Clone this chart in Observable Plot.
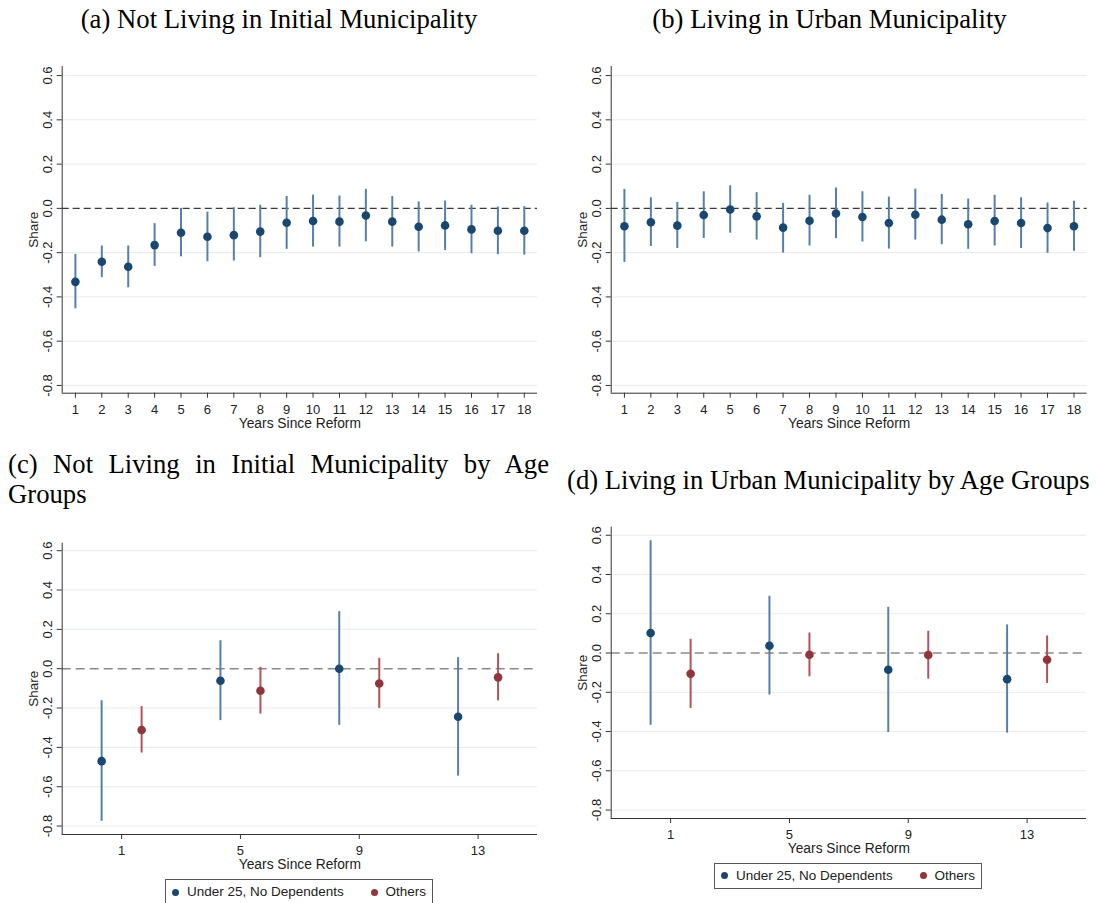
<!DOCTYPE html>
<html><head><meta charset="utf-8">
<script src="https://cdn.jsdelivr.net/npm/d3@7"></script>
<script src="https://cdn.jsdelivr.net/npm/@observablehq/plot@0.6"></script>
<style>
html,body{margin:0;padding:0;background:#fff;}
body{width:1096px;height:903px;position:relative;overflow:hidden;font-family:"Liberation Sans",Arial,sans-serif;}
.title{position:absolute;font-family:"Liberation Serif","Times New Roman",serif;font-size:26.7px;color:#000;line-height:30px;white-space:nowrap;}
.panel{position:absolute;}
.panel svg{overflow:visible;}
.legend{position:absolute;border:1px solid #555;box-sizing:border-box;background:#fff;font-size:13.5px;color:#222;}
.legend .dot{position:absolute;width:7px;height:7px;border-radius:50%;}
.legend .lab{position:absolute;white-space:nowrap;line-height:16px;}
</style></head><body>
<script>
// ---------- data ----------
const years = [1,2,3,4,5,6,7,8,9,10,11,12,13,14,15,16,17,18];
const aEst = [-0.332,-0.241,-0.264,-0.166,-0.110,-0.128,-0.121,-0.105,-0.065,-0.057,-0.060,-0.032,-0.060,-0.083,-0.077,-0.095,-0.101,-0.101];
const aLo  = [-0.454,-0.313,-0.359,-0.262,-0.219,-0.241,-0.238,-0.223,-0.185,-0.175,-0.175,-0.151,-0.175,-0.197,-0.190,-0.205,-0.209,-0.211];
const aHi  = [-0.208,-0.170,-0.170,-0.069,0.000,-0.017,0.003,0.014,0.054,0.060,0.056,0.086,0.054,0.029,0.033,0.014,0.006,0.008];
const bEst = [-0.081,-0.063,-0.078,-0.030,-0.005,-0.036,-0.087,-0.056,-0.023,-0.039,-0.066,-0.029,-0.051,-0.072,-0.057,-0.066,-0.089,-0.081];
const bLo  = [-0.244,-0.172,-0.181,-0.136,-0.112,-0.143,-0.202,-0.170,-0.137,-0.152,-0.184,-0.143,-0.164,-0.185,-0.170,-0.181,-0.203,-0.194];
const bHi  = [0.086,0.048,0.027,0.075,0.102,0.071,0.023,0.059,0.092,0.075,0.051,0.087,0.063,0.042,0.059,0.048,0.024,0.032];

const groupYears = [1,5,9,13];
const seriesNames = ["Under 25, No Dependents","Others"];
const cYoungEst = [-0.470,-0.061,0.000,-0.244];
const cYoungLo  = [-0.776,-0.264,-0.288,-0.546];
const cYoungHi  = [-0.163,0.142,0.290,0.056];
const cOtherEst = [-0.312,-0.112,-0.075,-0.044];
const cOtherLo  = [-0.429,-0.231,-0.202,-0.164];
const cOtherHi  = [-0.193,0.007,0.053,0.076];
const dYoungEst = [0.102,0.037,-0.085,-0.133];
const dYoungLo  = [-0.368,-0.214,-0.405,-0.408];
const dYoungHi  = [0.572,0.289,0.233,0.143];
const dOtherEst = [-0.106,-0.009,-0.010,-0.034];
const dOtherLo  = [-0.283,-0.121,-0.133,-0.155];
const dOtherHi  = [0.070,0.102,0.111,0.087];

const yTicks = [-0.8,-0.6,-0.4,-0.2,0,0.2,0.4,0.6];
const titles = ["(a) Not Living in Initial Municipality","(b) Living in Urban Municipality",
  "(c) Not Living in Initial Municipality by Age Groups","(d) Living in Urban Municipality by Age Groups"];
const xLabel = "Years Since Reform";
const yLabel = "Share";

// ---------- styles ----------
const blueDot = "#1a476f", blueLine = "#5680a8";
const redDot = "#90353b", redLine = "#b4525a";
const FONT = "Liberation Sans, Arial, sans-serif";

function rows(xs, est, lo, hi){ return xs.map((x,i)=>({x, est:est[i], lo:lo[i], hi:hi[i]})); }

function panel({left, top, width, height, m, xDomain, xTicks, yDomain, marks, zero}){
  const chart = Plot.plot({
    width, height,
    marginTop:m[0], marginRight:m[1], marginBottom:m[2], marginLeft:m[3],
    x:{domain:xDomain},
    y:{domain:yDomain},
    style:{fontFamily:FONT, background:"transparent", color:"#222"},
    marks:[
      Plot.gridY(yTicks.filter(d=>d!==0), {stroke:"#e6ebef", strokeOpacity:1, strokeWidth:1}),
      Plot.ruleY([0], zero),
      ...marks,
      Plot.ruleX([xDomain[0]], {stroke:"#333", strokeWidth:1}),
      Plot.ruleY([yDomain[0]], {stroke:"#333", strokeWidth:1}),
      Plot.axisX({ticks:xTicks, tickSize:5, tickPadding:6.5, fontSize:13, label:null, stroke:"#333"}),
      Plot.axisY({ticks:yTicks, tickSize:5, tickFormat:()=>"", label:null, stroke:"#333"}),
      Plot.text(yTicks, {y:d=>d, text:d=>d.toFixed(1), frameAnchor:"left", dx:-10.5, rotate:-90,
        lineAnchor:"bottom", textAnchor:"middle", fontSize:13, fill:"#222"}),
      Plot.text([xLabel], {text:d=>d, frameAnchor:"bottom", dy:30, lineAnchor:"middle", fontSize:13.8, fill:"#222"}),
      Plot.text([yLabel], {text:d=>d, frameAnchor:"left", dx:-29, rotate:-90, lineAnchor:"middle", textAnchor:"middle", fontSize:13.5, fill:"#222"})
    ]
  });
  const div = document.createElement("div");
  div.className = "panel";
  div.style.left = left+"px"; div.style.top = top+"px";
  div.appendChild(chart);
  document.body.appendChild(div);
}

function ciMarks(data, lineColor, dotColor, dx){
  return [
    Plot.ruleX(data, {x:"x", y1:"lo", y2:"hi", stroke:lineColor, strokeWidth:2, dx}),
    Plot.dot(data, {x:"x", y:"est", r:4.3, fill:dotColor, stroke:"none", dx})
  ];
}

const zeroTop = {stroke:"#3a3a3a", strokeWidth:1.1, strokeDasharray:"7,4"};
const zeroBot = {stroke:"#8a8a8a", strokeWidth:1.6, strokeDasharray:"9,5"};

// (a)
panel({left:0, top:40, width:548, height:410, m:[26,11,57.3,61.7],
  xDomain:[0.5,18.5], xTicks:years, yDomain:[-0.835,0.641],
  marks:ciMarks(rows(years,aEst,aLo,aHi), blueLine, blueDot, 0), zero:zeroTop});
// (b)
panel({left:548, top:40, width:548, height:410, m:[26,9.3,57.3,62.7],
  xDomain:[0.5,18.5], xTicks:years, yDomain:[-0.835,0.641],
  marks:ciMarks(rows(years,bEst,bLo,bHi), blueLine, blueDot, 0), zero:zeroTop});
// (c)
panel({left:0, top:510, width:548, height:370, m:[32.7,11,46,61.7],
  xDomain:[-1,15], xTicks:groupYears, yDomain:[-0.843,0.638],
  marks:[...ciMarks(rows(groupYears,cYoungEst,cYoungLo,cYoungHi), blueLine, blueDot, -20),
         ...ciMarks(rows(groupYears,cOtherEst,cOtherLo,cOtherHi), redLine, redDot, 20)], zero:zeroBot});
// (d)
panel({left:548, top:500, width:548, height:370, m:[26.7,10,52,62.7],
  xDomain:[-1,15], xTicks:groupYears, yDomain:[-0.843,0.641],
  marks:[...ciMarks(rows(groupYears,dYoungEst,dYoungLo,dYoungHi), blueLine, blueDot, -20),
         ...ciMarks(rows(groupYears,dOtherEst,dOtherLo,dOtherHi), redLine, redDot, 20)], zero:zeroBot});

// titles
function title(text, css){
  const d = document.createElement("div");
  d.className = "title"; d.textContent = text;
  Object.assign(d.style, css);
  document.body.appendChild(d);
}
title(titles[0], {left:"279px", top:"4px", transform:"translateX(-50%)"});
title(titles[1], {left:"829.5px", top:"4px", transform:"translateX(-50%)"});
title(titles[2], {left:"8px", top:"449px", width:"541px", whiteSpace:"normal", textAlign:"justify"});
title(titles[3], {left:"567px", top:"465px"});

// legends
function legend(left, top){
  const box = document.createElement("div");
  box.className = "legend";
  Object.assign(box.style, {left:left+"px", top:top+"px", width:"268px", height:"26px"});
  const colors = [blueDot, redDot];
  const offs = [[9,21],[208,219.5]];
  seriesNames.forEach((s,i)=>{
    const dot = document.createElement("div");
    dot.className="dot"; dot.style.background = colors[i];
    dot.style.left = (offs[i][0]-3.5)+"px"; dot.style.top = "8.5px";
    const lab = document.createElement("div");
    lab.className="lab"; lab.textContent = s;
    lab.style.left = offs[i][1]+"px"; lab.style.top = "4px";
    box.appendChild(dot); box.appendChild(lab);
  });
  document.body.appendChild(box);
}
legend(165, 879);
legend(714, 862.7);
</script>
</body></html>
